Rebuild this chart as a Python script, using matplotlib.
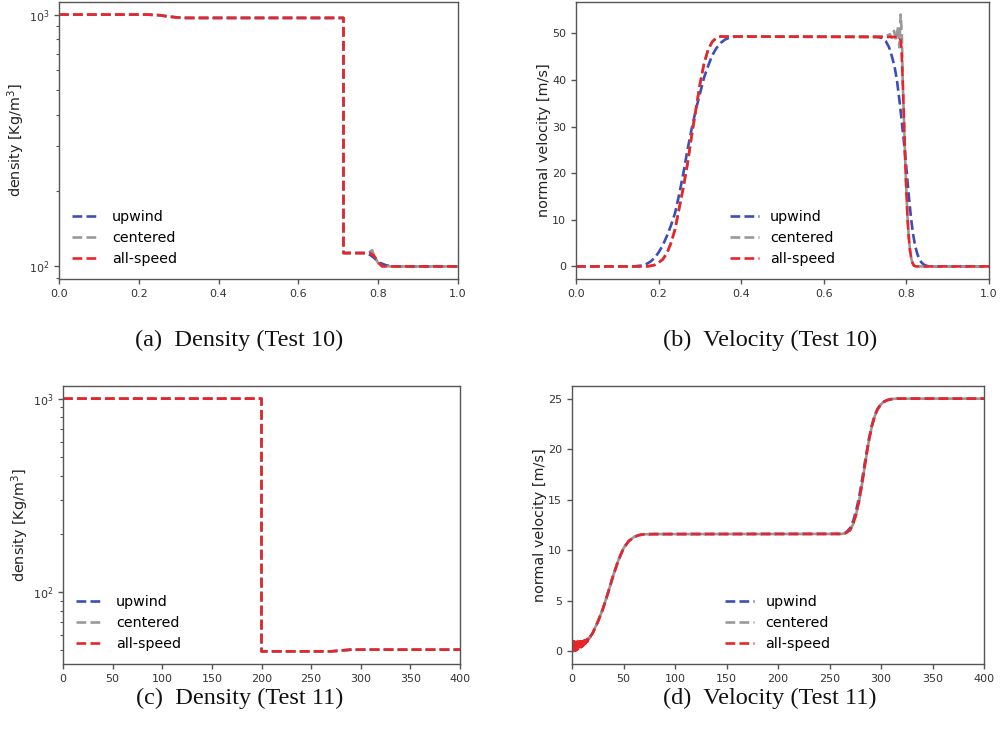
import matplotlib
matplotlib.use("Agg")
import matplotlib.pyplot as plt

### Data

# (a) density, Test 10
xa_up = [0.0, 0.22, 0.25, 0.28, 0.31, 0.713, 0.713, 0.77, 0.78, 0.79, 0.80, 0.82, 0.84, 1.0]
ya_up = [1000, 1000, 995, 980, 970, 970, 113, 113, 111, 108, 104, 101, 100, 100]
xa_ce = [0.0, 0.22, 0.25, 0.28, 0.31, 0.713, 0.713, 0.775, 0.785, 0.79, 0.80, 0.81, 1.0]
ya_ce = [1000, 1000, 995, 980, 970, 970, 113, 113, 116, 110, 103, 100, 100]
xa_as = [0.0, 0.22, 0.25, 0.28, 0.31, 0.713, 0.713, 0.78, 0.79, 0.80, 0.81, 1.0]
ya_as = [1000, 1000, 995, 980, 970, 970, 113, 113, 110, 104, 100, 100]

# (b) velocity, Test 10
xb_up = [0.0, 0.14, 0.16, 0.17, 0.18, 0.19, 0.20, 0.21, 0.22, 0.23, 0.24, 0.25, 0.26, 0.27,
         0.28, 0.29, 0.30, 0.31, 0.32, 0.33, 0.34, 0.35, 0.36, 0.37, 0.38, 0.39,
         0.73, 0.74, 0.75, 0.758, 0.765, 0.771, 0.777, 0.784, 0.79, 0.796, 0.801, 0.806,
         0.811, 0.816, 0.821, 0.826, 0.831, 0.836, 0.842, 0.85, 0.86, 1.0]
yb_up = [0, 0, 0.2, 0.5, 1.0, 1.8, 3.0, 4.5, 6.5, 8.8, 11.5, 15.5, 20, 25,
         29.5, 33.5, 37, 40.5, 43, 45.3, 46.8, 47.9, 48.6, 49.0, 49.2, 49.3,
         49.2, 49.0, 48.3, 47, 45, 43, 40, 35, 30, 25, 20, 15,
         10.5, 7, 4.5, 2.8, 1.6, 0.9, 0.4, 0.1, 0, 0]
xb_ce = [0.0, 0.17, 0.18, 0.19, 0.20, 0.21, 0.22, 0.23, 0.24, 0.25, 0.26, 0.27, 0.28, 0.29,
         0.30, 0.31, 0.32, 0.33, 0.34, 0.35, 0.75, 0.76, 0.765, 0.77, 0.775, 0.78, 0.783,
         0.786, 0.789, 0.791, 0.794, 0.797, 0.800, 0.803, 0.806, 0.809, 0.812, 0.815, 0.818,
         0.822, 1.0]
yb_ce = [0, 0, 0.1, 0.3, 0.8, 1.5, 2.8, 5, 8, 12.5, 17, 22, 28, 33.5,
         39, 43.5, 46.5, 48.2, 49, 49.3, 49.3, 49.8, 49.0, 50.5, 48.5, 51.5, 47,
         54, 50, 40, 32, 23, 16, 10, 6, 3.3, 1.6, 0.7, 0.2,
         0, 0]
xb_as = [0.0, 0.17, 0.18, 0.19, 0.20, 0.21, 0.22, 0.23, 0.24, 0.25, 0.26, 0.27, 0.28, 0.29,
         0.30, 0.31, 0.32, 0.33, 0.34, 0.35, 0.78, 0.785, 0.788, 0.791, 0.794, 0.797, 0.800,
         0.803, 0.806, 0.809, 0.812, 0.815, 0.818, 0.822, 1.0]
yb_as = [0, 0, 0.1, 0.3, 0.8, 1.5, 2.8, 5, 8, 12.5, 17, 22, 28, 33.5,
         39, 43.5, 46.5, 48.2, 49, 49.3, 49.2, 49.0, 47, 40, 32, 23, 16,
         10, 6, 3.3, 1.6, 0.7, 0.2, 0, 0]

# (c) density, Test 11
xc = [0, 200, 200, 270, 290, 400]
yc = [1000, 1000, 49.3, 49.3, 50.3, 50.3]

# (d) velocity, Test 11
xd_up = [0, 1, 3, 6, 10, 15, 20, 25, 30, 35, 40, 45, 50, 55, 60, 65, 70, 80, 262, 266, 270,
         273, 276, 279, 282, 285, 288, 291, 294, 297, 300, 303, 306, 310, 315, 400]
yd_up = [1.1, 0.4, 0.3, 0.4, 0.6, 1.0, 1.8, 2.9, 4.2, 5.8, 7.5, 9.0, 10.2, 10.9, 11.3, 11.5,
         11.58, 11.6, 11.62, 11.75, 12.2, 12.9, 14.0, 15.4, 17.2, 19.1, 20.9, 22.3, 23.4,
         24.05, 24.45, 24.7, 24.85, 24.95, 25, 25]
xd_ce = [0, 3, 6, 10, 15, 20, 25, 30, 35, 40, 45, 50, 55, 60, 65, 70, 80, 262, 266, 270,
         273, 276, 279, 282, 285, 288, 291, 294, 297, 300, 303, 306, 310, 315, 400]
yd_ce = [0.2, 0.3, 0.4, 0.6, 1.0, 1.8, 2.9, 4.2, 5.8, 7.5, 9.0, 10.2, 10.9, 11.3, 11.5,
         11.58, 11.6, 11.62, 11.7, 12.0, 12.6, 13.6, 15.0, 16.8, 18.8, 20.7, 22.2, 23.3,
         24.0, 24.45, 24.7, 24.85, 24.95, 25, 25]
xd_as = [0, 0.5, 1, 1.5, 2, 2.5, 3, 3.5, 4, 4.5, 5, 5.5, 6, 6.5, 7, 7.5, 8, 8.5, 9, 9.5,
         10, 10.5, 11, 11.5, 12, 12.5, 13, 13.5, 14, 14.5, 15, 15.5, 16, 17, 20, 25, 30, 35,
         40, 45, 50, 55, 60, 65, 70, 80, 262, 266, 270, 273, 276, 279, 282, 285, 288, 291,
         294, 297, 300, 303, 306, 310, 315, 400]
yd_as = [0, 1.0, 0.02, 0.98, 0.05, 0.97, 0.07, 0.96, 0.1, 0.95, 0.15, 0.95, 0.2, 0.96,
         0.25, 0.97, 0.3, 0.98, 0.4, 1.0, 0.5, 1.03, 0.57, 1.06, 0.65, 1.1, 0.75, 1.15,
         0.85, 1.2, 0.95, 1.25, 1.1, 1.35, 1.8, 2.9, 4.2, 5.8,
         7.5, 9.0, 10.2, 10.9, 11.3, 11.5, 11.58, 11.6, 11.62, 11.7, 12.0, 12.6, 13.6, 15.0,
         16.8, 18.8, 20.7, 22.2, 23.3, 24.0, 24.45, 24.7, 24.85, 24.95, 25, 25]

labels = ["upwind", "centered", "all-speed"]
colors = ["#3b4fb5", "#999999", "#e8262a"]
captions = ["(a)  Density (Test 10)", "(b)  Velocity (Test 10)",
            "(c)  Density (Test 11)", "(d)  Velocity (Test 11)"]

### Figure
W, H = 1001, 745
fig = plt.figure(figsize=(W / 100, H / 100), dpi=100)

def px_axes(left, right, top, bottom):
    return fig.add_axes([left / W, (H - bottom) / H, (right - left) / W, (bottom - top) / H])

ax_a = px_axes(59, 458, 2, 279)
ax_b = px_axes(576, 989, 2, 279)
ax_c = px_axes(63, 460, 386, 664)
ax_d = px_axes(572, 984, 386, 664)

series = {
    ax_a: [(xa_up, ya_up), (xa_ce, ya_ce), (xa_as, ya_as)],
    ax_b: [(xb_up, yb_up), (xb_ce, yb_ce), (xb_as, yb_as)],
    ax_c: [(xc, yc), (xc, yc), (xc, yc)],
    ax_d: [(xd_up, yd_up), (xd_ce, yd_ce), (xd_as, yd_as)],
}

for ax, lines in series.items():
    for (x, y), lab, col in zip(lines, labels, colors):
        ax.plot(x, y, "--", color=col, lw=1.9, label=lab)
    for s in ax.spines.values():
        s.set_color("#555555")
        s.set_linewidth(1.0)
    ax.tick_params(labelsize=8, colors="#555555", labelcolor="#333333", length=3.5, width=1.0)
    ax.tick_params(which="minor", colors="#555555", length=2.5, width=0.8)

for ax in (ax_a, ax_c):
    ax.set_yscale("log")
    ax.set_ylabel("density [Kg/m$^3$]", fontsize=10.4, color="#222222", labelpad=1)
    ax.legend(loc="lower left", frameon=False, fontsize=10.3)
for ax in (ax_b, ax_d):
    ax.set_ylabel("normal velocity [m/s]", fontsize=10.4, color="#222222", labelpad=1)
    ax.legend(loc="lower center", frameon=False, fontsize=10.3)

ax_a.set_xlim(0, 1)
ax_b.set_xlim(0, 1)
ax_c.set_xlim(0, 400)
ax_d.set_xlim(0, 400)

# Captions under each panel
cap_pos = [(239, 340), (770, 340), (240, 698), (770, 698)]
for (cx, cy), txt in zip(cap_pos, captions):
    fig.text(cx / W, (H - cy) / H, txt, ha="center", va="center",
             fontsize=17.5, family="Liberation Serif", color="#111111")

fig.savefig("out.png", dpi=100)
